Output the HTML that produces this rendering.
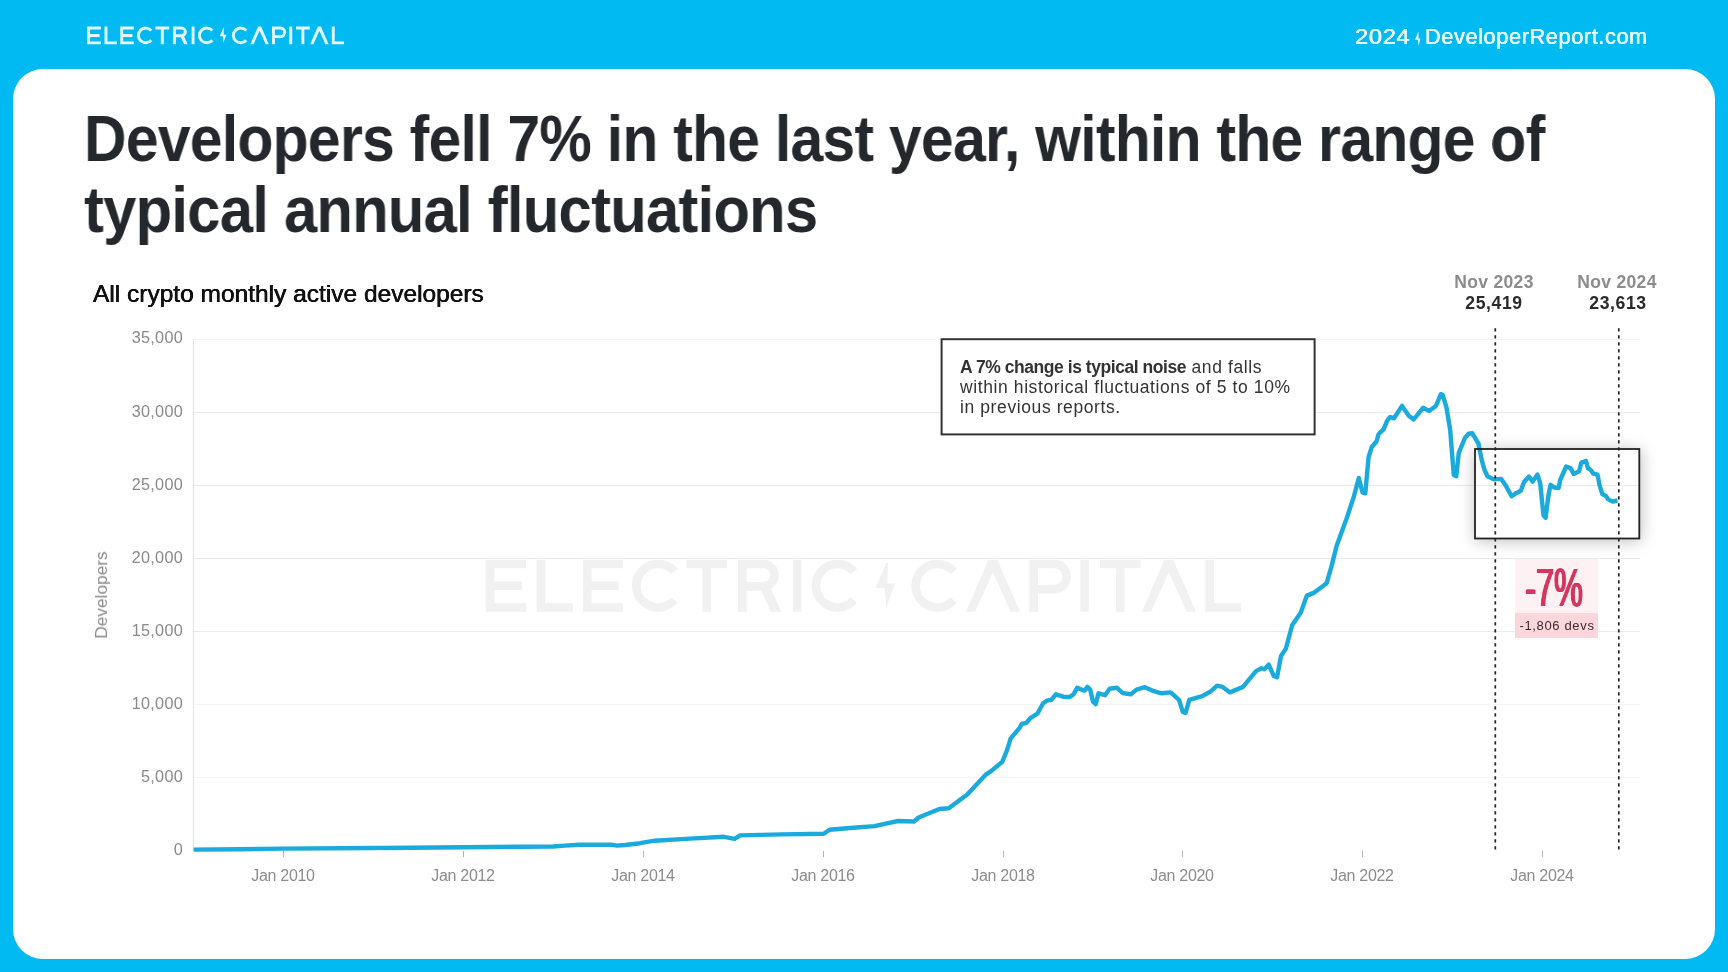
<!DOCTYPE html>
<html>
<head>
<meta charset="utf-8">
<title>Developers fell 7% in the last year</title>
<style>
html,body{margin:0;padding:0;}
body{width:1728px;height:972px;overflow:hidden;background:#00baf1;font-family:"Liberation Sans",sans-serif;position:relative;}
.card{position:absolute;left:12.8px;top:69.1px;width:1702.2px;height:890px;background:#fff;border-radius:30px;will-change:transform;}
.abs{position:absolute;white-space:nowrap;will-change:transform;}
.title{left:83.8px;top:103.6px;font-size:64px;font-weight:bold;color:#24272b;line-height:71.1px;letter-spacing:-0.8px;transform:scaleX(0.9199);transform-origin:0 0;}
.site{top:24.3px;font-size:21.8px;color:#e6f8ff;line-height:26px;text-shadow:0.25px 0 0 #e6f8ff,-0.25px 0 0 #e6f8ff;}
.sub{left:92.6px;top:280.5px;font-size:24.5px;color:#111;line-height:26px;letter-spacing:0px;text-shadow:0.3px 0 0 #111,-0.3px 0 0 #111;}
.ylab{width:70px;text-align:right;left:113.2px;font-size:16.2px;color:#8a8a8a;line-height:18px;letter-spacing:0.3px;}
.xlab{width:100px;text-align:center;font-size:16px;color:#8c8c8c;line-height:18px;top:866.7px;letter-spacing:-0.3px;}
.ann{width:120px;text-align:center;font-weight:bold;line-height:20px;}
.ann.g{color:#8c8c8c;font-size:17.5px;top:271.8px;letter-spacing:0.33px;}
.ann.d{color:#2b2b2b;font-size:17.6px;top:292.6px;letter-spacing:0.6px;}
.callout{left:942.6px;top:340.2px;width:371px;height:93.2px;background:#fff;}
.callout p{margin:0;position:absolute;left:17px;top:17.4px;font-size:17.5px;line-height:20px;color:#333;white-space:nowrap;letter-spacing:0.6px;}
.zoombox{left:1474.1px;top:448.1px;width:166.1px;height:91.3px;box-shadow:1px 2px 15px rgba(0,0,0,0.26);}
.pink1{left:1515.4px;top:559px;width:82.6px;height:54px;background:#fef1f3;}
.pink2{left:1515.4px;top:612.5px;width:82.6px;height:25px;background:#fbd7dc;}
.pct{left:1504px;top:558.2px;width:100px;text-align:center;font-size:53px;font-weight:normal;color:#d3365f;line-height:60px;transform:scaleX(0.613);transform-origin:50% 50%;text-shadow:1.3px 0 0 #d3365f,-1.3px 0 0 #d3365f,0.65px 0 0 #d3365f,-0.65px 0 0 #d3365f;}
.devs{left:1507px;top:616.8px;width:100px;text-align:center;font-size:13px;color:#3a2b31;line-height:18px;letter-spacing:0.65px;}
.rot{left:100.8px;top:594.7px;font-size:17.3px;color:#8a8a8a;transform:translate(-50%,-50%) rotate(-90deg);line-height:20px;}
</style>
</head>
<body>
<div class="card"></div>

<svg class="abs" style="left:0;top:0;color:#e2faff" width="400" height="69" viewBox="0 0 400 69"><g transform="translate(87.2,26.6) scale(0.3399) translate(-485.7,-559.7)"><path d="M526,564.0H490.0V607.5H526M490.0,585.75H522 M541.0,559.7V607.5H573 M622.8,564.0H587.3V607.5H622.8M587.3,585.75H618.8 M674.38,571.51A21.7,21.7 0 1 0 674.38,599.99 M686.4,564.0H727M706.7,564.0V611.8 M742.3,611.8V564.0H763.3A11.2,11.2 0 0 1 763.3,586.4H742.3 M797.2,559.7V611.8 M853.88,571.51A21.7,21.7 0 1 0 853.88,599.99 M953.68,571.51A21.7,21.7 0 1 0 953.68,599.99 M1033.7,611.8V564.0H1054.1000000000001A12.6,12.6 0 0 1 1054.1000000000001,589.2H1033.7 M1084.6,559.7V611.8 M1100,564.0H1140.5M1120.25,564.0V611.8 M1209.6,559.7V607.5H1241.2" fill="none" stroke="currentColor" stroke-width="8.6" stroke-linejoin="miter" stroke-linecap="butt"/><polygon points="759.3,586.4 769.8,586.4 781.3,611.8 770.8,611.8" fill="currentColor"/><polygon points="965.7,611.8 988.5000000000001,559.7 997.3000000000001,559.7 1020.1,611.8 1010.7,611.8 992.9000000000001,572.2 975.1,611.8" fill="currentColor"/><polygon points="1141.7,611.8 1164.4499999999998,559.7 1173.25,559.7 1196,611.8 1186.6,611.8 1168.85,572.2 1151.1000000000001,611.8" fill="currentColor"/><polygon points="886.28,563.00 875.50,587.92 884.52,587.92 886.28,607.50 895.10,583.47 887.26,583.47 888.04,563.00" fill="currentColor"/></g></svg>
<div class="abs site" style="left:1355px;letter-spacing:0.6px;transform:scaleX(1.09);transform-origin:0 0">2024</div>
<div class="abs site" style="left:1425.3px;letter-spacing:0.57px">DeveloperReport.com</div>
<svg class="abs" style="left:1412px;top:28px;color:#e6f8ff" width="12" height="22" viewBox="0 0 12 22"><polygon points="6.4,3.9 2.9,11.8 5.9,11.8 6.5,17.8 8.5,10.6 6.5,10.6 6.6,3.9" fill="currentColor"/></svg>

<div class="abs title">Developers fell 7% in the last year, within the range of</div>
<div class="abs title" style="top:175.2px;left:83.5px;transform:scaleX(0.9335)">typical annual fluctuations</div>
<div class="abs sub">All crypto monthly active developers</div>

<svg class="abs" style="left:0;top:0" width="1728" height="972" viewBox="0 0 1728 972">
<line x1="194" x2="1640" y1="777.5" y2="777.5" stroke="#f4f4f4" stroke-width="1"/><line x1="194" x2="1640" y1="704.5" y2="704.5" stroke="#f4f4f4" stroke-width="1"/><line x1="194" x2="1640" y1="631.5" y2="631.5" stroke="#eaeaea" stroke-width="1"/><line x1="194" x2="1640" y1="558.5" y2="558.5" stroke="#eaeaea" stroke-width="1"/><line x1="194" x2="1640" y1="485.5" y2="485.5" stroke="#eaeaea" stroke-width="1"/><line x1="194" x2="1640" y1="412.5" y2="412.5" stroke="#eaeaea" stroke-width="1"/><line x1="194" x2="1640" y1="339.5" y2="339.5" stroke="#f4f4f4" stroke-width="1"/>
<line x1="193.5" x2="193.5" y1="339" y2="851" stroke="#e3e3e3" stroke-width="1"/>
<line x1="283.5" x2="283.5" y1="851" y2="857" stroke="#b5b5b5" stroke-width="1"/><line x1="463.5" x2="463.5" y1="851" y2="857" stroke="#b5b5b5" stroke-width="1"/><line x1="643.5" x2="643.5" y1="851" y2="857" stroke="#b5b5b5" stroke-width="1"/><line x1="823.5" x2="823.5" y1="851" y2="857" stroke="#b5b5b5" stroke-width="1"/><line x1="1003.5" x2="1003.5" y1="851" y2="857" stroke="#b5b5b5" stroke-width="1"/><line x1="1182.5" x2="1182.5" y1="851" y2="857" stroke="#b5b5b5" stroke-width="1"/><line x1="1362.5" x2="1362.5" y1="851" y2="857" stroke="#b5b5b5" stroke-width="1"/><line x1="1542.5" x2="1542.5" y1="851" y2="857" stroke="#b5b5b5" stroke-width="1"/>
<g style="color:#f1f1f1"><path d="M526,564.0H490.0V607.5H526M490.0,585.75H522 M541.0,559.7V607.5H573 M622.8,564.0H587.3V607.5H622.8M587.3,585.75H618.8 M674.38,571.51A21.7,21.7 0 1 0 674.38,599.99 M686.4,564.0H727M706.7,564.0V611.8 M742.3,611.8V564.0H763.3A11.2,11.2 0 0 1 763.3,586.4H742.3 M797.2,559.7V611.8 M853.88,571.51A21.7,21.7 0 1 0 853.88,599.99 M953.68,571.51A21.7,21.7 0 1 0 953.68,599.99 M1033.7,611.8V564.0H1054.1000000000001A12.6,12.6 0 0 1 1054.1000000000001,589.2H1033.7 M1084.6,559.7V611.8 M1100,564.0H1140.5M1120.25,564.0V611.8 M1209.6,559.7V607.5H1241.2" fill="none" stroke="currentColor" stroke-width="8.6" stroke-linejoin="miter" stroke-linecap="butt"/><polygon points="759.3,586.4 769.8,586.4 781.3,611.8 770.8,611.8" fill="currentColor"/><polygon points="965.7,611.8 988.5000000000001,559.7 997.3000000000001,559.7 1020.1,611.8 1010.7,611.8 992.9000000000001,572.2 975.1,611.8" fill="currentColor"/><polygon points="1141.7,611.8 1164.4499999999998,559.7 1173.25,559.7 1196,611.8 1186.6,611.8 1168.85,572.2 1151.1000000000001,611.8" fill="currentColor"/><polygon points="886.28,563.00 875.50,587.92 884.52,587.92 886.28,607.50 895.10,583.47 887.26,583.47 888.04,563.00" fill="currentColor"/></g>
</svg>

<div class="abs ylab" style="top:840.2px">0</div><div class="abs ylab" style="top:767.1px">5,000</div><div class="abs ylab" style="top:694.0px">10,000</div><div class="abs ylab" style="top:620.9px">15,000</div><div class="abs ylab" style="top:547.7px">20,000</div><div class="abs ylab" style="top:474.6px">25,000</div><div class="abs ylab" style="top:401.5px">30,000</div><div class="abs ylab" style="top:328.4px">35,000</div>
<div class="abs xlab" style="left:233px">Jan 2010</div><div class="abs xlab" style="left:413px">Jan 2012</div><div class="abs xlab" style="left:593px">Jan 2014</div><div class="abs xlab" style="left:773px">Jan 2016</div><div class="abs xlab" style="left:953px">Jan 2018</div><div class="abs xlab" style="left:1132px">Jan 2020</div><div class="abs xlab" style="left:1312px">Jan 2022</div><div class="abs xlab" style="left:1492px">Jan 2024</div>
<div class="abs rot">Developers</div>

<div class="abs callout"><p><b style="letter-spacing:-0.45px">A 7% change is typical noise</b> and falls<br>within historical fluctuations of 5 to 10%<br>in previous reports.</p></div>
<div class="abs zoombox"></div>
<div class="abs pink1"></div>
<div class="abs pink2"></div>

<svg class="abs" style="left:0;top:0" width="1728" height="972" viewBox="0 0 1728 972">
<path d="M193.6,849.6 L240,849.2 L283,848.6 L373,848.0 L463,847.3 L520,846.8 L553,846.5 L565,845.6 L579,844.8 L611,844.6 L617,845.6 L625,845.0 L640,843.2 L654.7,840.7 L690,838.6 L724,836.8 L734.6,838.8 L740,835.4 L782,834.4 L823.7,833.75 L829.5,829.8 L850,828 L874.6,826.1 L897.8,821 L914,821.5 L918.6,817.5 L939.4,809 L948.7,808.3 L967.2,794.4 L985.7,774.7 L991.1,771.1 L1002.2,761.9 L1006.9,750.7 L1010.6,738.7 L1019.8,727.6 L1021.7,723.9 L1026.3,723 L1030,718.3 L1037.4,713.7 L1043,703.5 L1046.7,700.7 L1051.3,699.8 L1055.9,694.3 L1063.3,696.7 L1069.8,697 L1073.5,694.3 L1077.2,687.8 L1080.9,689.3 L1084.6,690.6 L1087.4,686.9 L1090.2,689.6 L1093,701.7 L1095.7,704.1 L1098.5,693.3 L1105,695.2 L1109.6,688.7 L1117,687.8 L1122.6,693 L1130.9,694.3 L1136.5,689.6 L1144.8,687.2 L1152.2,690.6 L1161.5,693.3 L1170.7,692.4 L1179,699.8 L1182.8,711.9 L1185.6,712.8 L1189.3,699.8 L1202.2,696.1 L1210.6,691.5 L1217,685.6 L1222.6,686.9 L1230,692.4 L1243,686.9 L1256,671.1 L1261.5,668.3 L1264.3,669.3 L1268.7,664.7 L1273.8,676 L1277,677.3 L1281,656 L1285.9,648.6 L1292.1,625.2 L1300.7,612.8 L1306.9,595.6 L1314.3,592.6 L1326.7,583.2 L1331.6,565.9 L1336.5,546.2 L1346.4,519 L1353.8,496.8 L1358.8,478 L1362.5,492.5 L1365.3,493.3 L1368.6,457 L1371.8,447 L1376.5,441.5 L1378.5,434.3 L1383.5,429.4 L1387.2,420.7 L1390.2,417 L1394,418.3 L1402,405.9 L1408.8,415.8 L1413.7,419.5 L1423,407.8 L1429.1,410.9 L1435.9,405.9 L1440.9,394.2 L1442.7,394.8 L1446.4,407.2 L1450.1,429.4 L1453.8,475.1 L1456.3,476.3 L1458.8,452.8 L1464.9,438 L1468.6,433.7 L1472.3,433.3 L1478.5,443.6 L1481.5,459.2 L1484.5,470 L1487.5,476.3 L1493.8,479.4 L1501.3,478.9 L1505.7,485.4 L1511.6,496.2 L1516.5,492.9 L1520.8,490.8 L1524,482.1 L1528.9,476.7 L1532.7,481.6 L1537.5,474.6 L1540.2,483.2 L1543.5,515.6 L1545.6,517.8 L1548.3,496.2 L1550.5,484.8 L1554.3,487.5 L1558.6,488.1 L1560.2,480 L1566.2,466.5 L1570.5,468.1 L1573.7,474 L1579.1,471.3 L1581.3,462.7 L1586.1,461.1 L1587.8,468.1 L1591,470.3 L1593.2,473.5 L1597.5,474.6 L1599.6,485.4 L1602.3,494 L1606.1,496.2 L1608.3,499.4 L1612.6,501.6 L1617.5,500.5" fill="none" stroke="#1aabdc" stroke-width="4.4" stroke-linejoin="round" stroke-linecap="butt"/>
<rect x="941.6" y="339.2" width="373" height="95.2" fill="none" stroke="#333" stroke-width="2"/>
<rect x="1475" y="449" width="164.3" height="89.5" fill="none" stroke="#222" stroke-width="1.8"/>
<line x1="1495.3" x2="1495.3" y1="328.2" y2="851" stroke="#222" stroke-width="1.7" stroke-dasharray="3.2 3.8"/>
<line x1="1618.8" x2="1618.8" y1="328.2" y2="851" stroke="#222" stroke-width="1.7" stroke-dasharray="3.2 3.8"/>
</svg>

<div class="abs ann g" style="left:1434.2px">Nov 2023</div>
<div class="abs ann d" style="left:1434.3px">25,419</div>
<div class="abs ann g" style="left:1557.1px">Nov 2024</div>
<div class="abs ann d" style="left:1557.5px">23,613</div>

<div class="abs pct">-7%</div>
<div class="abs devs">-1,806 devs</div>

</body>
</html>
